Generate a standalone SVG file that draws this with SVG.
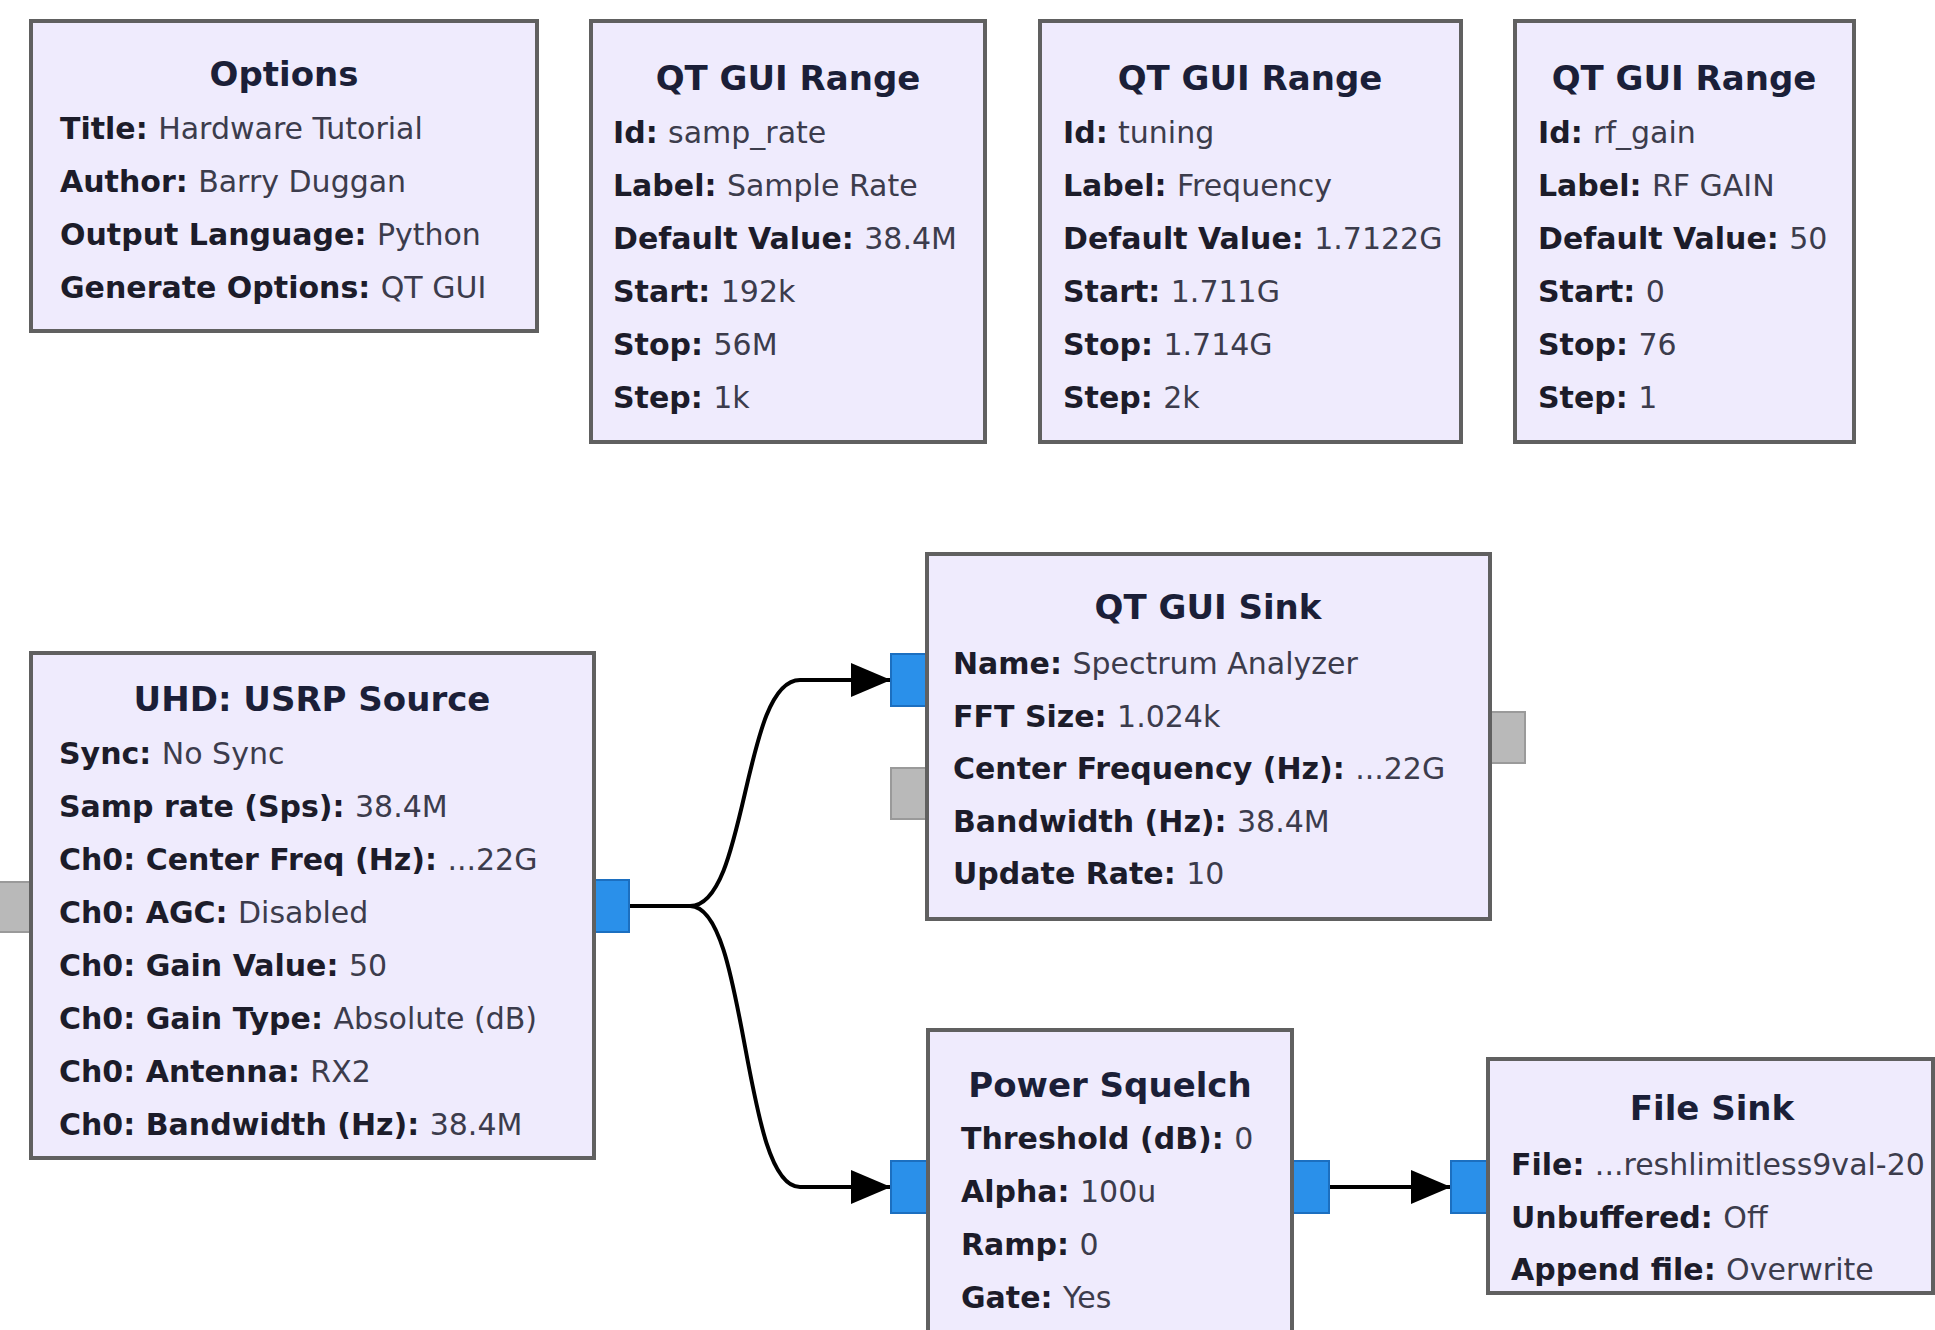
<svg xmlns="http://www.w3.org/2000/svg" width="1935" height="1330" viewBox="0 0 1935 1330">
<style>
.box{fill:#efebfd;stroke:#606060;stroke-width:4}
.t{font-family:"DejaVu Sans","Liberation Sans",sans-serif;font-size:34px;font-weight:bold;fill:#1b1f38;text-anchor:middle}
.p{font-family:"DejaVu Sans","Liberation Sans",sans-serif;font-size:30px;fill:#3c3c4c}
.k{font-weight:bold;fill:#1c1c2a}
.pin{fill:#2a90ea;stroke:#1c6fc0;stroke-width:2}
.gray{fill:#b9b9b9;stroke:#9a9a9a;stroke-width:2}
.edge{fill:none;stroke:#000;stroke-width:4}
</style>
<defs>
<marker id="arr" markerUnits="userSpaceOnUse" markerWidth="40" markerHeight="34" refX="40" refY="17" orient="auto">
<path d="M0,0 L40,17 L0,34 z" fill="#000"/>
</marker>
</defs>
<rect width="1935" height="1330" fill="#fff"/>

<g id="options">
<rect class="box" x="31" y="21" width="506" height="310"/>
<text class="t" x="284" y="86">Options</text>
<text class="p" x="60" y="139"><tspan class="k">Title: </tspan>Hardware Tutorial</text>
<text class="p" x="60" y="192"><tspan class="k">Author: </tspan>Barry Duggan</text>
<text class="p" x="60" y="245"><tspan class="k">Output Language: </tspan>Python</text>
<text class="p" x="60" y="298"><tspan class="k">Generate Options: </tspan>QT GUI</text>
</g>

<g id="range_samp_rate">
<rect class="box" x="591" y="21" width="394" height="421"/>
<text class="t" x="788" y="90">QT GUI Range</text>
<text class="p" x="613" y="143"><tspan class="k">Id: </tspan>samp_rate</text>
<text class="p" x="613" y="196"><tspan class="k">Label: </tspan>Sample Rate</text>
<text class="p" x="613" y="249"><tspan class="k">Default Value: </tspan>38.4M</text>
<text class="p" x="613" y="302"><tspan class="k">Start: </tspan>192k</text>
<text class="p" x="613" y="355"><tspan class="k">Stop: </tspan>56M</text>
<text class="p" x="613" y="408"><tspan class="k">Step: </tspan>1k</text>
</g>

<g id="range_tuning">
<rect class="box" x="1040" y="21" width="421" height="421"/>
<text class="t" x="1250" y="90">QT GUI Range</text>
<text class="p" x="1063" y="143"><tspan class="k">Id: </tspan>tuning</text>
<text class="p" x="1063" y="196"><tspan class="k">Label: </tspan>Frequency</text>
<text class="p" x="1063" y="249"><tspan class="k">Default Value: </tspan>1.7122G</text>
<text class="p" x="1063" y="302"><tspan class="k">Start: </tspan>1.711G</text>
<text class="p" x="1063" y="355"><tspan class="k">Stop: </tspan>1.714G</text>
<text class="p" x="1063" y="408"><tspan class="k">Step: </tspan>2k</text>
</g>

<g id="range_rf_gain">
<rect class="box" x="1515" y="21" width="339" height="421"/>
<text class="t" x="1684" y="90">QT GUI Range</text>
<text class="p" x="1538" y="143"><tspan class="k">Id: </tspan>rf_gain</text>
<text class="p" x="1538" y="196"><tspan class="k">Label: </tspan>RF GAIN</text>
<text class="p" x="1538" y="249"><tspan class="k">Default Value: </tspan>50</text>
<text class="p" x="1538" y="302"><tspan class="k">Start: </tspan>0</text>
<text class="p" x="1538" y="355"><tspan class="k">Stop: </tspan>76</text>
<text class="p" x="1538" y="408"><tspan class="k">Step: </tspan>1</text>
</g>

<g id="connectors">
<path class="edge" d="M629,906 H690 C748,906 742,680 800,680 H891" marker-end="url(#arr)"/>
<path class="edge" d="M629,906 H690 C748,906 742,1187 800,1187 H891" marker-end="url(#arr)"/>
<path class="edge" d="M1329,1187 H1451" marker-end="url(#arr)"/>
</g>

<g id="usrp_source">
<rect class="gray" x="-2" y="882" width="33" height="50"/>
<rect class="pin" x="594" y="880" width="35" height="52"/>
<rect class="box" x="31" y="653" width="563" height="505"/>
<text class="t" x="312" y="711">UHD: USRP Source</text>
<text class="p" x="59" y="764"><tspan class="k">Sync: </tspan>No Sync</text>
<text class="p" x="59" y="817"><tspan class="k">Samp rate (Sps): </tspan>38.4M</text>
<text class="p" x="59" y="870"><tspan class="k">Ch0: Center Freq (Hz): </tspan>...22G</text>
<text class="p" x="59" y="923"><tspan class="k">Ch0: AGC: </tspan>Disabled</text>
<text class="p" x="59" y="976"><tspan class="k">Ch0: Gain Value: </tspan>50</text>
<text class="p" x="59" y="1029"><tspan class="k">Ch0: Gain Type: </tspan>Absolute (dB)</text>
<text class="p" x="59" y="1082"><tspan class="k">Ch0: Antenna: </tspan>RX2</text>
<text class="p" x="59" y="1135"><tspan class="k">Ch0: Bandwidth (Hz): </tspan>38.4M</text>
</g>

<g id="qt_gui_sink">
<rect class="pin" x="891" y="654" width="36" height="52"/>
<rect class="gray" x="891" y="768" width="36" height="51"/>
<rect class="gray" x="1490" y="712" width="35" height="51"/>
<rect class="box" x="927" y="554" width="563" height="365"/>
<text class="t" x="1208" y="619">QT GUI Sink</text>
<text class="p" x="953" y="674"><tspan class="k">Name: </tspan>Spectrum Analyzer</text>
<text class="p" x="953" y="727"><tspan class="k">FFT Size: </tspan>1.024k</text>
<text class="p" x="953" y="779"><tspan class="k">Center Frequency (Hz): </tspan>...22G</text>
<text class="p" x="953" y="832"><tspan class="k">Bandwidth (Hz): </tspan>38.4M</text>
<text class="p" x="953" y="884"><tspan class="k">Update Rate: </tspan>10</text>
</g>

<g id="power_squelch">
<rect class="pin" x="891" y="1161" width="37" height="52"/>
<rect class="pin" x="1292" y="1161" width="37" height="52"/>
<rect class="box" x="928" y="1030" width="364" height="320"/>
<text class="t" x="1110" y="1097">Power Squelch</text>
<text class="p" x="961" y="1149"><tspan class="k">Threshold (dB): </tspan>0</text>
<text class="p" x="961" y="1202"><tspan class="k">Alpha: </tspan>100u</text>
<text class="p" x="961" y="1255"><tspan class="k">Ramp: </tspan>0</text>
<text class="p" x="961" y="1308"><tspan class="k">Gate: </tspan>Yes</text>
</g>

<g id="file_sink">
<rect class="pin" x="1451" y="1161" width="37" height="52"/>
<rect class="box" x="1488" y="1059" width="445" height="234"/>
<text class="t" x="1712" y="1120">File Sink</text>
<text class="p" x="1511" y="1175"><tspan class="k">File: </tspan>...reshlimitless9val-20</text>
<text class="p" x="1511" y="1228"><tspan class="k">Unbuffered: </tspan>Off</text>
<text class="p" x="1511" y="1280"><tspan class="k">Append file: </tspan>Overwrite</text>
</g>
</svg>
